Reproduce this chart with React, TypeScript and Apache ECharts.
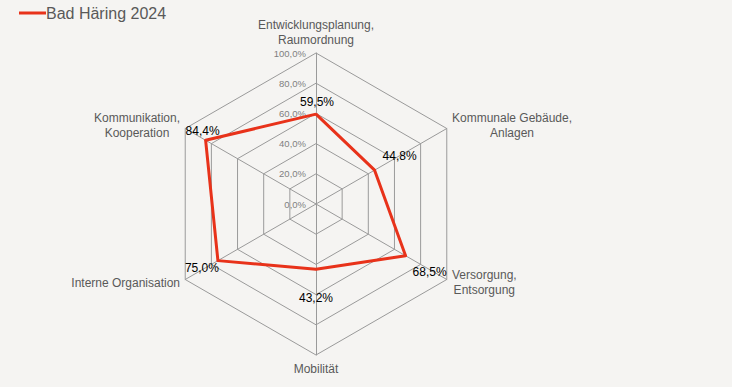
import React, { useEffect, useRef } from "react";
import * as echarts from "echarts";

// Categories in clockwise order starting from the top
const categories = [
  "Entwicklungsplanung,\nRaumordnung",
  "Kommunale Gebäude,\nAnlagen",
  "Versorgung,\nEntsorgung",
  "Mobilität",
  "Interne Organisation",
  "Kommunikation,\nKooperation",
];
const values = [59.5, 44.8, 68.5, 43.2, 75.0, 84.4];
const seriesName = "Bad Häring 2024";
const axisMax = 100;
const axisInterval = 20;

// label offsets (dx, dy) per category, clockwise order
const labelOffsets: [number, number][] = [
  [1, -12],
  [25, -14],
  [24, 16],
  [0, 29],
  [-16, 7],
  [-3, -9],
];

const FONT = '"Liberation Sans", Arial, sans-serif';

export default function App() {
  const ref = useRef<HTMLDivElement>(null);
  useEffect(() => {
    if (!ref.current) return;
    const chart = echarts.init(ref.current, null, { renderer: "svg" });
    // ECharts radar goes counter-clockwise: reorder
    const order = [0, 5, 4, 3, 2, 1];
    const ecCats = order.map((i) => categories[i]);
    const ecVals = order.map((i) => values[i]);
    const ecOffsets = order.map((i) => labelOffsets[i]);

    const rich: Record<string, any> = {};
    ecOffsets.forEach(([dx, dy], k) => {
      rich["d" + k] = {
        color: "#000",
        fontSize: 12,
        fontFamily: FONT,
        padding: [
          Math.max(2 * dy, 0),
          Math.max(-2 * dx, 0),
          Math.max(-2 * dy, 0),
          Math.max(2 * dx, 0),
        ],
      };
    });

    const fmtPct = (v: number) => v.toFixed(1).replace(".", ",") + "%";

    chart.setOption({
      animation: false,
      backgroundColor: "#f5f4f2",
      textStyle: { fontFamily: FONT },
      legend: {
        data: [seriesName],
        left: 14,
        top: 0,
        icon: "rect",
        itemWidth: 27,
        itemHeight: 3,
        textStyle: {
          fontSize: 16,
          color: "#595959",
          fontFamily: FONT,
          padding: [0, 0, 0, -5],
        },
      },
      radar: {
        center: [316, 204],
        radius: 151,
        startAngle: 90,
        splitNumber: axisMax / axisInterval,
        shape: "polygon",
        nameGap: 6,
        axisName: {
          color: "#595959",
          fontSize: 12,
          fontFamily: FONT,
          lineHeight: 15,
          formatter: (name: string) =>
            name
              .split("\n")
              .map((l) => `{c|${l}}`)
              .join("\n"),
          rich: {
            c: {
              align: "center",
              color: "#595959",
              fontSize: 12,
              fontFamily: FONT,
              lineHeight: 15,
            },
          },
        },
        splitArea: { show: false },
        splitLine: { lineStyle: { color: "#9a9a9a", width: 1 } },
        axisLine: { lineStyle: { color: "#9a9a9a", width: 1 } },
        axisTick: { show: false },
        axisLabel: { show: false },
        indicator: ecCats.map((name, i) => ({
          name,
          min: 0,
          max: axisMax,
          ...(i === 0
            ? {
                axisLabel: {
                  show: true,
                  fontSize: 9.5,
                  color: "#7f7f7f",
                  fontFamily: FONT,
                  margin: 10,
                  showMinLabel: true,
                  formatter: (v: number) => fmtPct(v),
                },
              }
            : {}),
        })),
      },
      series: [
        {
          type: "radar",
          name: seriesName,
          symbol: "circle",
          symbolSize: 2,
          itemStyle: { color: "#e8321a" },
          lineStyle: { color: "#e8321a", width: 3 },
          label: {
            show: true,
            position: "inside",
            formatter: (p: any) => {
              const v = typeof p.value === "number" ? p.value : Number(p.value);
              let k = p.dimensionIndex;
              if (k == null) k = ecVals.indexOf(v);
              return `{d${k}|${fmtPct(v)}}`;
            },
            rich,
          },
          data: [{ name: seriesName, value: ecVals }],
        },
      ],
    });
    return () => chart.dispose();
  }, []);
  return (
    <div
      ref={ref}
      style={{ position: "fixed", left: 0, top: 0, width: 732, height: 387 }}
    />
  );
}
